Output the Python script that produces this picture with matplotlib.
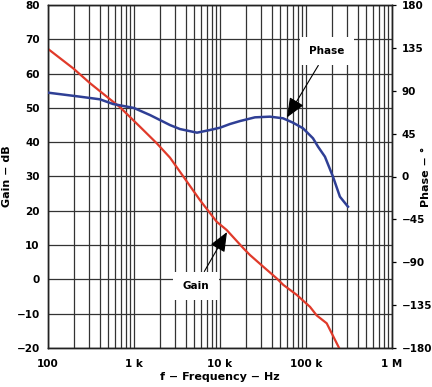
import numpy as np
import matplotlib
matplotlib.use('Agg')
import matplotlib.pyplot as plt
from matplotlib.ticker import FixedLocator, NullFormatter

# gain curve (Hz, dB)
gain_f = [100, 197, 308, 481, 687, 1174, 1836, 2620, 3745, 5850, 9160,
          11960, 18660, 22330, 31860, 45620, 54470, 77950, 111300, 133100,
          174100, 243800]
gain_db = [67.2, 61.5, 57.2, 53.3, 50.2, 44.5, 39.7, 35.5, 30.0, 23.1, 16.8,
           14.4, 9.1, 7.1, 3.7, 0.3, -1.6, -4.5, -8.0, -10.5, -12.8, -20.1]

# phase curve (Hz, deg)
phase_f = [100, 235, 402, 570, 1000, 1535, 2620, 3425, 5400, 7650, 10000,
           13070, 17100, 25500, 38100, 54000, 70600, 92300, 120600, 138000,
           166000, 206000, 248000, 307700]
phase_deg = [88.0, 83.8, 81.0, 76.1, 71.9, 64.5, 54.0, 49.8, 46.0, 48.8, 51.2,
             55.1, 58.2, 62.1, 62.8, 61.1, 56.5, 50.6, 40.1, 31.3, 20.8, -0.2,
             -21.2, -31.7]

x_ticks = [100, 1e3, 1e4, 1e5, 1e6]
x_labels = ['100', '1 k', '10 k', '100 k', '1 M']
gain_ticks = list(range(-20, 81, 10))
phase_ticks = list(range(-180, 181, 45))

plt.rcParams['font.family'] = 'DejaVu Sans'
plt.rcParams['font.weight'] = 'bold'
plt.rcParams['axes.unicode_minus'] = True
FS = 7.5
LFS = 8

fig = plt.figure(figsize=(4.32, 3.87), dpi=100)
ax = fig.add_axes([48 / 432, 1 - 348 / 387, 344 / 432, 343 / 387])
ax2 = ax.twinx()

ax.set_xscale('log')
ax.set_xlim(100, 1e6)
ax.set_ylim(-20, 80)
ax2.set_ylim(-180, 180)

minor = [m * 10 ** d for d in range(2, 6) for m in range(2, 10)]
ax.xaxis.set_major_locator(FixedLocator(x_ticks))
ax.xaxis.set_minor_locator(FixedLocator(minor))
ax.xaxis.set_minor_formatter(NullFormatter())
ax.set_xticklabels(x_labels)
ax.set_yticks(gain_ticks)
ax2.set_yticks(phase_ticks)

ax.grid(which='both', axis='x', color='#333333', lw=0.9)
ax.grid(which='major', axis='y', color='#333333', lw=0.9)
ax.tick_params(axis='y', which='both', length=0, labelsize=FS, pad=6)
ax.tick_params(axis='x', which='both', length=0, labelsize=FS, pad=8)
ax2.tick_params(length=3, width=0.9, labelsize=FS, pad=4)
for a in (ax, ax2):
    for s in a.spines.values():
        s.set_linewidth(1.0)
        s.set_color('#222222')

ax.plot(gain_f, gain_db, color='#e03a2a', lw=1.6, zorder=3)
ax2.plot(phase_f, phase_deg, color='#2f3f95', lw=1.8, zorder=3)

ax.set_xlabel('f − Frequency − Hz', fontsize=LFS, fontweight='bold')
ax.set_ylabel('Gain − dB', fontsize=LFS, fontweight='bold')
ax2.set_ylabel('Phase − °', fontsize=LFS, fontweight='bold')
ax.xaxis.set_label_coords(0.5, -(372 - 348) / 343)
ax.yaxis.set_label_coords((12 - 48) / 344, 0.5)
ax2.yaxis.set_label_coords((421 - 48) / 344, 0.5)

arrow = dict(arrowstyle='-|>,head_length=0.6,head_width=0.25', color='black',
             lw=0.8, mutation_scale=20, shrinkA=0, shrinkB=0)
box = dict(boxstyle='square,pad=0.9', fc='white', ec='none')
ax2.annotate('Phase', xy=(60100, 62), xytext=(175400, 131.7),
             fontsize=FS, fontweight='bold', ha='center', va='center',
             bbox=box, arrowprops=arrow, zorder=10)
ax2.annotate('Gain', xy=(12060, 13.8), xycoords=ax.transData,
             xytext=(5260, -1.9), textcoords=ax.transData,
             fontsize=FS, fontweight='bold', ha='center', va='center',
             bbox=box, arrowprops=arrow, zorder=10)

fig.savefig('out.png', dpi=100)
